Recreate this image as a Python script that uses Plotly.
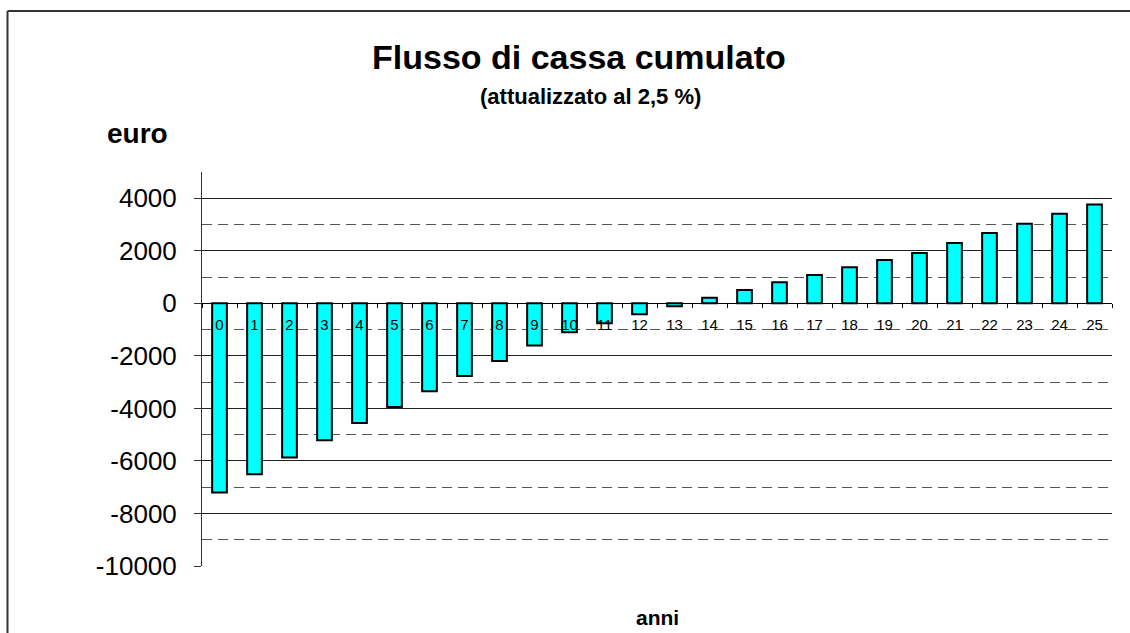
import plotly.graph_objects as go

# ---- data ----
anni = [str(i) for i in range(26)]
flusso_cumulato = [-7200, -6510, -5870, -5210, -4560, -3950, -3350, -2770, -2200,
                   -1610, -1100, -760, -420, -110, 210, 510, 800, 1080, 1370,
                   1650, 1920, 2300, 2680, 3030, 3410, 3760]
y_tick_vals = [-10000, -8000, -6000, -4000, -2000, 0, 2000, 4000]
y_tick_text = ["-10000", "-8000", "-6000", "-4000", "-2000", "0", "2000", "4000"]
y_minor_vals = [-9000, -7000, -5000, -3000, -1000, 1000, 3000]
y_range = [-10000, 5000]

titolo = "Flusso di cassa cumulato"
sottotitolo = "(attualizzato al 2,5 %)"
label_y = "euro"
label_x = "anni"

# ---- layout helpers ----
FONT = "Liberation Sans, Arial, sans-serif"
W, H = 1130, 633
L, R, T, B = 202, 18, 172, 67
PW, PH = W - L - R, H - T - B


def px(x):
    return (x - L) / PW


def py(y):
    return (H - B - y) / PH


fig = go.Figure(
    go.Bar(
        x=anni,
        y=flusso_cumulato,
        width=0.42,
        marker=dict(color="#00FFFF", line=dict(color="black", width=2)),
        hoverinfo="x+y",
    )
)

zero_pos = (0 - y_range[0]) / (y_range[1] - y_range[0])

fig.update_layout(
    width=W,
    height=H,
    margin=dict(l=L, r=R, t=T, b=B, autoexpand=False),
    paper_bgcolor="white",
    plot_bgcolor="white",
    showlegend=False,
    font=dict(family=FONT, color="black"),
    xaxis=dict(
        type="category",
        range=[-0.5, 25.5],
        anchor="free",
        position=zero_pos,
        side="bottom",
        showline=True,
        linecolor="black",
        linewidth=1,
        ticks="outside",
        tickson="boundaries",
        ticklen=4,
        tickcolor="black",
        tickfont=dict(size=15, family=FONT, color="black"),
        ticklabelstandoff=8,
        showgrid=False,
        zeroline=False,
    ),
    yaxis=dict(
        range=y_range,
        tickmode="array",
        tickvals=y_tick_vals,
        ticktext=y_tick_text,
        showline=True,
        linecolor="#333333",
        linewidth=1,
        ticks="outside",
        ticklen=7,
        tickcolor="#333333",
        tickfont=dict(size=26, family=FONT, color="black"),
        ticklabelstandoff=12,
        showgrid=True,
        gridcolor="#222222",
        gridwidth=1,
        zeroline=False,
        minor=dict(
            tickmode="array",
            tickvals=y_minor_vals,
            showgrid=True,
            gridcolor="#555555",
            gridwidth=1,
            griddash="10px,6px",
            ticks="",
        ),
    ),
    shapes=[
        dict(type="line", xref="paper", yref="paper",
             x0=px(7.5), x1=px(1140), y0=py(11), y1=py(11),
             line=dict(color="#333333", width=2)),
        dict(type="line", xref="paper", yref="paper",
             x0=px(7.5), x1=px(7.5), y0=py(11), y1=py(645),
             line=dict(color="#333333", width=2)),
    ],
    annotations=[
        dict(text=titolo, xref="paper", yref="paper", x=px(579), y=py(57),
             xanchor="center", yanchor="middle", showarrow=False,
             font=dict(size=34, family=FONT, weight="bold", color="black")),
        dict(text=sottotitolo, xref="paper", yref="paper", x=px(590), y=py(96),
             xanchor="center", yanchor="middle", showarrow=False,
             font=dict(size=22, family=FONT, weight="bold", color="black")),
        dict(text=label_y, xref="paper", yref="paper", x=px(137.5), y=py(133),
             xanchor="center", yanchor="middle", showarrow=False,
             font=dict(size=28, family=FONT, weight="bold", color="black")),
        dict(text=label_x, xref="paper", yref="paper", x=px(657), y=py(617),
             xanchor="center", yanchor="middle", showarrow=False,
             font=dict(size=21, family=FONT, weight="bold", color="black")),
    ],
)

fig.write_html("out.html", config={"displayModeBar": False},
               post_script="document.body.style.margin='0px';")
